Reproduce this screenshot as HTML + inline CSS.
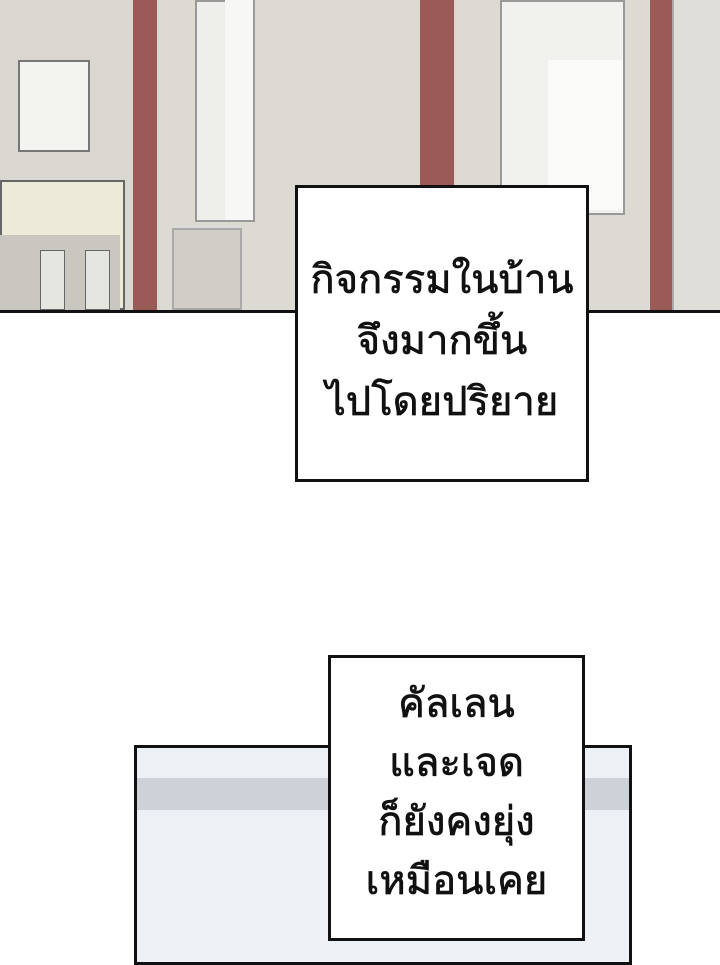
<!DOCTYPE html>
<html><head><meta charset="utf-8"><style>
body{margin:0;width:720px;height:960px;background:#fff;position:relative;overflow:hidden;font-family:"Liberation Sans",sans-serif}
div{position:absolute;box-sizing:border-box}
.box{background:#fff;border:3px solid #111;text-align:center;color:#111;font-size:40px;line-height:61px;-webkit-text-stroke:0.7px #111}
</style></head><body>
<div style="left:0;top:0;width:720px;height:313px;background:#d9d7cf;border-bottom:3px solid #111"></div>
<div style="left:160px;top:0;width:260px;height:310px;background:#dcdad3"></div>
<div style="left:195px;top:0;width:60px;height:222px;background:#eeeeea;border:2px solid #999"></div>
<div style="left:225px;top:0;width:28px;height:220px;background:#f7f7f5"></div>
<div style="left:172px;top:228px;width:70px;height:82px;background:#d0cec6;border:2px solid #aaa"></div>
<div style="left:455px;top:0;width:195px;height:310px;background:#dcdad3"></div>
<div style="left:500px;top:0;width:125px;height:215px;background:#f1f1ee;border:2px solid #999"></div>
<div style="left:548px;top:60px;width:75px;height:150px;background:#fafaf8"></div>
<div style="left:672px;top:0;width:48px;height:310px;background:#e0ded8;border-left:2px solid #aaa"></div>
<div style="left:133px;top:0;width:24px;height:310px;background:#9a5a56"></div>
<div style="left:420px;top:0;width:34px;height:310px;background:#9a5a56"></div>
<div style="left:650px;top:0;width:22px;height:310px;background:#9a5a56"></div>
<div style="left:18px;top:60px;width:72px;height:92px;background:#f3f3f0;border:2px solid #777"></div>
<div style="left:0;top:180px;width:125px;height:130px;background:#ecead8;border:2px solid #666"></div>
<div style="left:0;top:235px;width:120px;height:75px;background:#c9c7c0"></div>
<div style="left:40px;top:250px;width:25px;height:60px;background:#e6e6e0;border:1px solid #666"></div>
<div style="left:85px;top:250px;width:25px;height:60px;background:#e6e6e0;border:1px solid #666"></div>
<div style="left:134px;top:745px;width:498px;height:220px;background:#edf1f6;border:3px solid #111"></div>
<div style="left:137px;top:778px;width:492px;height:32px;background:#cdd1d8"></div>
<div class="box" style="left:295px;top:185px;width:294px;height:297px;padding-top:62px">กิจกรรมในบ้าน<br>จึงมากขึ้น<br>ไปโดยปริยาย</div>
<div class="box" style="left:328px;top:655px;width:257px;height:286px;padding-top:17px;line-height:59px">คัลเลน<br>และเจด<br>ก็ยังคงยุ่ง<br>เหมือนเคย</div>
</body></html>
